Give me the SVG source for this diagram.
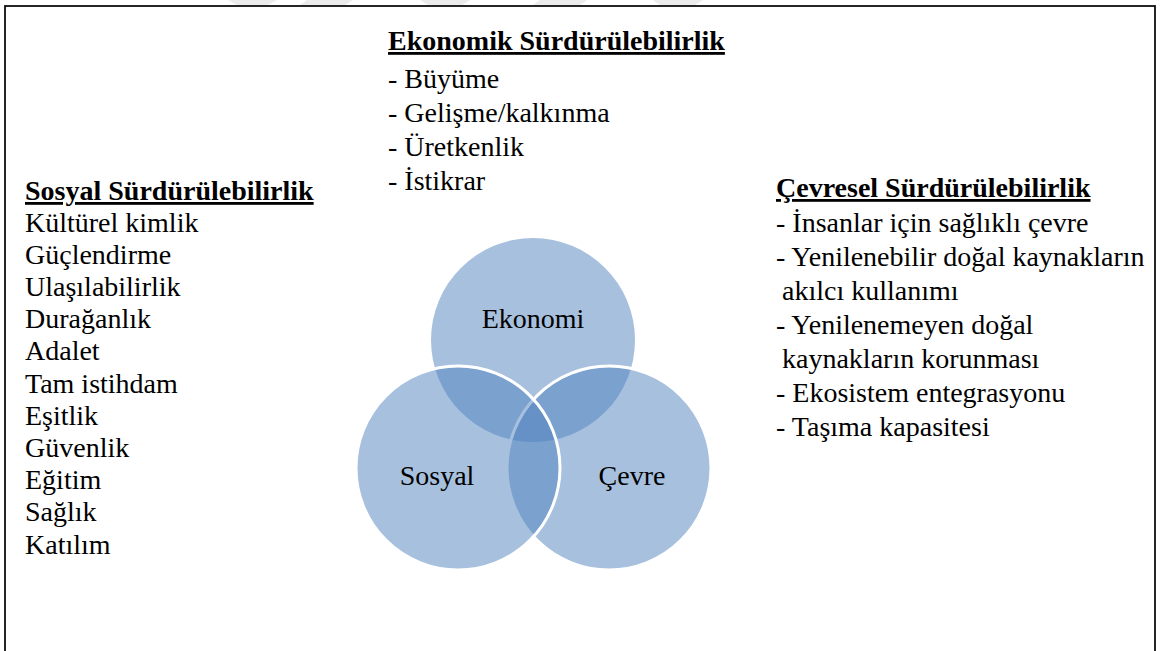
<svg xmlns="http://www.w3.org/2000/svg" width="1161" height="651" viewBox="0 0 1161 651">
<style>
text{font-family:'Liberation Serif','Times New Roman',serif;font-size:28px;fill:#000}
.h{font-weight:bold;text-decoration:underline}
.c{fill:#4F81BD;fill-opacity:0.5}
.w{stroke:#fff;stroke-width:3}
.wm{fill:#ececec}
</style>
<rect width="1161" height="651" fill="#fff"/>
<g id="watermark">
<polygon class="wm" points="228,0 277,0 268,5 237,5"/>
<polygon class="wm" points="307,0 353,0 345,5 300,5"/>
<polygon class="wm" points="420,0 470,0 462,5 428,5"/>
<polygon class="wm" points="540,0 587,0 580,5 533,5"/>
<polygon class="wm" points="653,0 703,0 695,5 660,5"/>
</g>
<rect id="frame" x="5" y="6" width="1150" height="700" fill="none" stroke="#000" stroke-width="1.7"/>
<g id="circles">
<g id="ekonomi"><circle class="c" cx="533" cy="340" r="102"/><text x="533" y="328" text-anchor="middle">Ekonomi</text></g>
<g id="cevre"><circle class="c w" cx="609" cy="468" r="102"/></g>
<g id="sosyal"><circle class="c w" cx="458" cy="468" r="102"/></g>
<text x="437" y="485" text-anchor="middle">Sosyal</text>
<text x="632" y="485" text-anchor="middle">Çevre</text>
</g>
<g id="ekonomik">
<text class="h" x="388" y="50">Ekonomik  Sürdürülebilirlik</text>
<text x="388" y="88">- Büyüme</text>
<text x="388" y="122">- Gelişme/kalkınma</text>
<text x="388" y="156">- Üretkenlik</text>
<text x="388" y="190">- İstikrar</text>
</g>
<g id="sosyal-list">
<text class="h" x="25" y="200">Sosyal Sürdürülebilirlik</text>
<text x="25" y="232">Kültürel kimlik</text>
<text x="25" y="264">Güçlendirme</text>
<text x="25" y="296">Ulaşılabilirlik</text>
<text x="25" y="328">Durağanlık</text>
<text x="25" y="360">Adalet</text>
<text x="25" y="393">Tam istihdam</text>
<text x="25" y="425">Eşitlik</text>
<text x="25" y="457">Güvenlik</text>
<text x="25" y="489">Eğitim</text>
<text x="25" y="521">Sağlık</text>
<text x="25" y="554">Katılım</text>
</g>
<g id="cevresel-list">
<text class="h" x="776" y="197">Çevresel Sürdürülebilirlik</text>
<text x="776" y="231.5">- İnsanlar için sağlıklı çevre</text>
<text x="776" y="265.5">- Yenilenebilir doğal kaynakların</text>
<text x="782" y="299.5">akılcı kullanımı</text>
<text x="776" y="333.5">- Yenilenemeyen doğal</text>
<text x="782" y="367.5">kaynakların korunması</text>
<text x="776" y="401.5">- Ekosistem entegrasyonu</text>
<text x="776" y="435.5">- Taşıma kapasitesi</text>
</g>
</svg>
